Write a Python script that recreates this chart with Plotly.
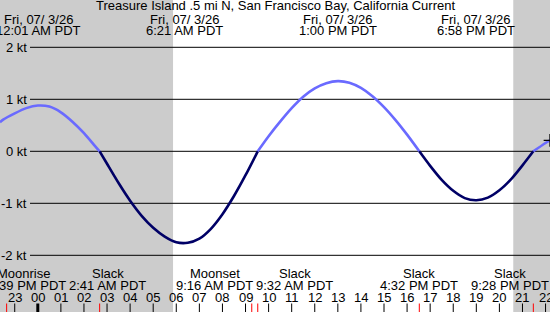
import plotly.graph_objects as go

# ---------------- data ----------------
title_text = "Treasure Island .5 mi N, San Francisco Bay, California Current"

# hours relative to midnight Fri 07/3/26, current speed in knots
hours = [-1.64, -1.5, -1.0, -0.5, 0.0, 0.5, 1.0, 1.5, 2.0, 2.5, 2.68,
         3.0, 3.5, 4.0, 4.5, 5.0, 5.5, 6.0, 6.5, 7.0, 7.5, 8.0, 8.5, 9.0, 9.53,
         10.0, 10.5, 11.0, 11.5, 12.0, 12.5, 13.0, 13.5, 14.0, 14.5, 15.0, 15.5, 16.0, 16.53,
         17.0, 17.5, 18.0, 18.5, 19.0, 19.5, 20.0, 20.5, 21.0, 21.47, 22.0, 22.19]
knots = [0.56, 0.61, 0.73, 0.83, 0.88, 0.86, 0.75, 0.57, 0.35, 0.09, 0.0,
         -0.24, -0.61, -0.95, -1.24, -1.47, -1.64, -1.75, -1.76, -1.68, -1.49, -1.21, -0.86, -0.46, 0.0,
         0.29, 0.57, 0.83, 1.05, 1.21, 1.31, 1.35, 1.32, 1.22, 1.06, 0.85, 0.60, 0.32, 0.0,
         -0.28, -0.55, -0.76, -0.90, -0.94, -0.89, -0.75, -0.54, -0.27, 0.0, 0.16, 0.21]

# max/min current events shown along the top
extreme_hours = [0.02, 6.35, 13.0, 18.97]
extreme_dates = ["Fri, 07/ 3/26"] * 4
extreme_times = ["12:01 AM PDT", "6:21 AM PDT", "1:00 PM PDT", "6:58 PM PDT"]

# events shown along the bottom
event_hours = [-1.35, 2.68, 9.27, 9.53, 16.53, 21.47]
event_names = ["Moonrise", "Slack", "Moonset", "Slack", "Slack", "Slack"]
event_times = ["10:39 PM PDT", "2:41 AM PDT", "9:16 AM PDT", "9:32 AM PDT", "4:32 PM PDT", "9:28 PM PDT"]

# hour ticks
tick_hours = list(range(-1, 23))
tick_labels = ["23"] + ["%02d" % h for h in range(0, 23)]

# daylight
sunrise_hour = 5.86
sunset_hour = 20.60

y_levels = [2, 1, 0, -1, -2]
y_labels = ["2 kt", "1 kt", "0 kt", "-1 kt", "-2 kt"]

now_hour = 22.19
now_knots = 0.21

# ---------------- styles ----------------
W, H = 550, 312
PX_PER_H = 23.08
X0_PX = 37.8
ZERO_PX = 151.3
PX_PER_KT = 52.0
xr = [(0 - X0_PX) / PX_PER_H, (W - X0_PX) / PX_PER_H]
yr = [-(H - ZERO_PX) / PX_PER_KT, ZERO_PX / PX_PER_KT]

FONT = "Liberation Sans, Arial, sans-serif"
FLOOD = "#6a6aff"
EBB = "#000066"
NIGHT = "#cccccc"
label_shift = [17, 8, -37, 37, 0, -23]


def py(px):  # pixel y (from top) -> paper
    return 1 - px / H


fig = go.Figure()

# split curve into flood / ebb segments
segs = []
cur = [[hours[0]], [knots[0]]]
cur_sign = 1 if knots[0] >= 0 else -1
for h, v in zip(hours[1:], knots[1:]):
    cur[0].append(h)
    cur[1].append(v)
    if v == 0:
        segs.append((cur_sign, cur))
        cur = [[h], [v]]
        cur_sign = None
    elif cur_sign is None:
        cur_sign = 1 if v > 0 else -1
segs.append((cur_sign, cur))

for sign, (xs, ys) in segs:
    if len(xs) < 2:
        continue
    fig.add_trace(go.Scatter(x=xs, y=ys, mode="lines",
                             line=dict(color=FLOOD if sign == 1 else EBB, width=2.6, shape="spline", smoothing=0.8),
                             hoverinfo="skip", showlegend=False))

fig.add_trace(go.Scatter(x=[now_hour], y=[now_knots], mode="markers",
                         marker=dict(symbol="cross-thin", size=9, line=dict(color="black", width=1.2)),
                         showlegend=False, hoverinfo="skip"))

shapes = []
# night shading
shapes.append(dict(type="rect", xref="x", yref="paper", x0=xr[0], x1=sunrise_hour, y0=0, y1=1,
                   fillcolor=NIGHT, line=dict(width=0), layer="below"))
shapes.append(dict(type="rect", xref="x", yref="paper", x0=sunset_hour, x1=xr[1], y0=0, y1=1,
                   fillcolor=NIGHT, line=dict(width=0), layer="below"))
# grid lines
for lv in y_levels:
    shapes.append(dict(type="line", xref="paper", yref="y", x0=30 / W, x1=1, y0=lv, y1=lv,
                       line=dict(color="black", width=1), layer="below"))
# hour ticks
for h in tick_hours:
    shapes.append(dict(type="line", xref="x", yref="paper", x0=h, x1=h, y0=0, y1=8.5 / H,
                       line=dict(color="black", width=3 if h == 0 else 1), layer="below"))
# event ticks
for h in event_hours:
    shapes.append(dict(type="line", xref="x", yref="paper", x0=h, x1=h, y0=0, y1=8.5 / H,
                       line=dict(color="red", width=1), layer="below"))

ann = []
fnt = dict(family=FONT, size=13, color="black")
ann.append(dict(text=title_text, xref="paper", yref="paper", x=0.5, y=py(5.5), xanchor="center",
                yanchor="middle", showarrow=False, font=fnt))
for h, d, t in zip(extreme_hours, extreme_dates, extreme_times):
    ann.append(dict(text=d, xref="x", yref="paper", x=h, y=py(19), xanchor="center", yanchor="middle",
                    showarrow=False, font=fnt))
    ann.append(dict(text=t, xref="x", yref="paper", x=h, y=py(30.5), xanchor="center", yanchor="middle",
                    showarrow=False, font=fnt))
for h, n, t, s in zip(event_hours, event_names, event_times, label_shift):
    ann.append(dict(text=n, xref="x", yref="paper", x=h, xshift=s, y=py(273.5), xanchor="center",
                    yanchor="middle", showarrow=False, font=fnt))
    ann.append(dict(text=t, xref="x", yref="paper", x=h, xshift=s, y=py(285.5), xanchor="center",
                    yanchor="middle", showarrow=False, font=fnt))
for h, lab in zip(tick_hours, tick_labels):
    ann.append(dict(text=lab, xref="x", yref="paper", x=h, y=py(297), xanchor="center",
                    yanchor="middle", showarrow=False, font=fnt))
for lv, lab in zip(y_levels, y_labels):
    ann.append(dict(text=lab, xref="paper", yref="y", x=29 / W, y=lv, xanchor="right",
                    yanchor="middle", showarrow=False, font=fnt))

fig.update_layout(
    width=W, height=H, margin=dict(l=0, r=0, t=0, b=0),
    paper_bgcolor="white", plot_bgcolor="white",
    xaxis=dict(range=xr, visible=False, fixedrange=True),
    yaxis=dict(range=yr, visible=False, fixedrange=True),
    shapes=shapes, annotations=ann, showlegend=False,
)
fig.write_html("out.html", config={"displayModeBar": False})
